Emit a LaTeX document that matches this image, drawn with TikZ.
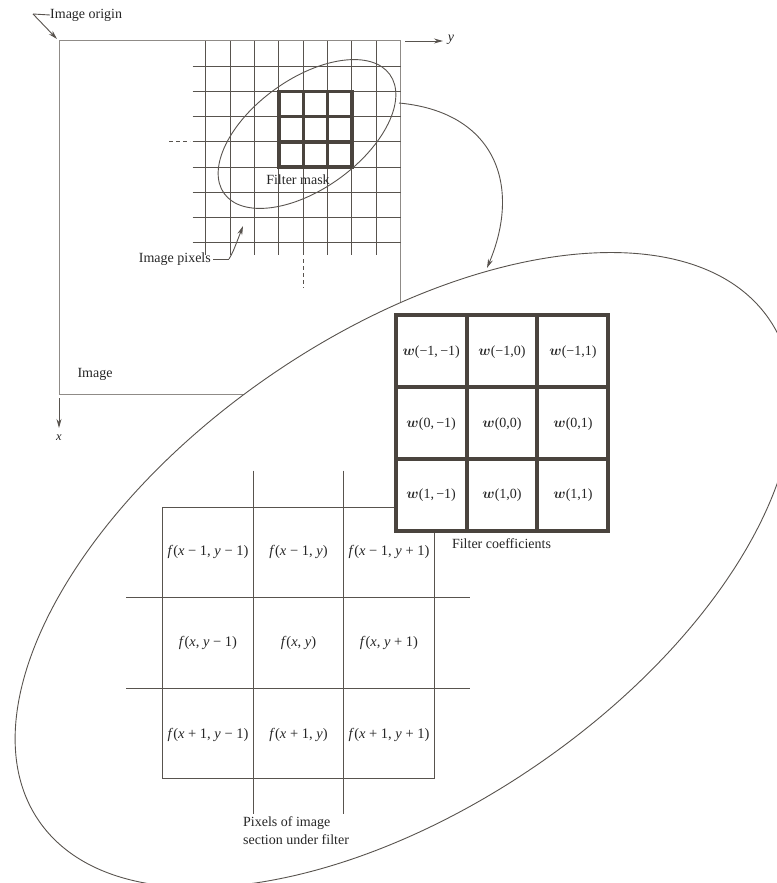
\documentclass[tikz,border=0pt]{standalone}
\usepackage{bm}
\usepackage{fontspec}
\setmainfont{Liberation Serif}
\usetikzlibrary{arrows.meta}
\definecolor{linec}{HTML}{58534E}
\definecolor{rectc}{HTML}{8F8B87}
\definecolor{boxc}{HTML}{4A443E}
\begin{document}
\begin{tikzpicture}[x=1pt,y=-1pt,
  lbl/.style={font=\fontsize{14}{18}\selectfont, inner sep=0pt, text=black!85},
  flbl/.style={font=\fontsize{14.5}{16}\selectfont, inner sep=0pt, text=black!85},
  wlbl/.style={font=\fontsize{14}{15}\selectfont, inner sep=0pt, text=black!85},
  thin line/.style={draw=linec, line width=0.9pt},
  rect line/.style={draw=rectc, line width=1pt},
  heavy/.style={draw=boxc, line width=3.4pt},
  heavier/.style={draw=boxc, line width=4pt},
  tip/.style={-{Stealth[length=9pt,width=5pt]}}
  ]
\useasboundingbox (0,0) rectangle (776,883);

% ---- image rectangle
\draw[rect line] (59,394) -- (59,41) -- (400.7,41) -- (400.7,330);
\draw[rect line] (59,394) -- (270,394);

% ---- pixel grid
\foreach \i in {0,...,7}
  \draw[thin line] ({205.7+24.37*\i},41) -- ({205.7+24.37*\i},255);
\foreach \j in {1,...,8}
  \draw[thin line] (192.7,{41+25.2*\j}) -- (400.7,{41+25.2*\j});
\draw[thin line, dash pattern=on 4pt off 3pt] (169,141.8) -- (190,141.8);
\draw[thin line, dash pattern=on 4pt off 3pt] (303.2,259) -- (303.2,288);

% ---- filter mask
\draw[heavy] (278.8,91.4) rectangle (351.9,167);
\draw[heavy] (303.2,91.4) -- (303.2,167) (327.6,91.4) -- (327.6,167);
\draw[heavy] (278.8,116.6) -- (351.9,116.6) (278.8,141.8) -- (351.9,141.8);
\node[lbl] (masklbl) at (298,180) {Filter mask};

% ---- small ellipse
\draw[thin line, rotate around={35.7:(307,134)}] (307,134) ellipse [x radius=102pt, y radius=55pt];

% ---- axes
\coordinate (ya) at (405,41);
\coordinate (yb) at (443,41);
\draw[thin line, tip] (ya) -- (yb);
\node[lbl, font=\fontsize{14}{16}\selectfont\itshape] (ylbl) at (451,40) {y};
\coordinate (xa) at (59,398);
\coordinate (xb) at (59,428);
\draw[thin line, tip] (xa) -- (xb);
\node[lbl, font=\fontsize{12.5}{14}\selectfont\itshape] (xlbl) at (59,438) {x};

% ---- labels
\node[lbl, anchor=west] (origin) at (50,15) {Image origin};
\coordinate (oc) at (33,14);
\coordinate (ot) at (57,39);
\draw[thin line] (origin.west) -- (oc);
\draw[thin line, tip] (oc) -- (ot);

\node[lbl, anchor=east] (pix) at (211,259) {Image pixels};
\coordinate (pc) at (229,259);
\coordinate (pt) at (243,226);
\draw[thin line] (pix.east) ++(2,0) -- (pc);
\draw[thin line, tip] (pc) .. controls (233,252) .. (pt);

\node[lbl] (imglbl) at (95,374) {Image};

% ---- curved connector
\coordinate (ca) at (399,103);
\coordinate (cb) at (487,268);
\draw[thin line, tip] (ca) .. controls (495,112) and (522,185) .. (cb);

% ---- big ellipse
\filldraw[fill=white, thin line, rotate around={34.5:(404,570)}] (404,570) ellipse [x radius=443pt, y radius=236pt];

% ---- image section grid
\draw[thin line] (162.3,507.3) rectangle (434.3,778.7);
\draw[thin line] (253.3,470.7) -- (253.3,814.3);
\draw[thin line] (343.3,470.7) -- (343.3,814.3);
\draw[thin line] (126,597) -- (470,597);
\draw[thin line] (126,688.3) -- (470,688.3);

\node[flbl] (f11) at (208,552) {\textit{f}(\textit{x} − 1, \textit{y} − 1)};
\node[flbl] (f12) at (298.5,552) {\textit{f}(\textit{x} − 1, \textit{y})};
\node[flbl] (f13) at (389,552) {\textit{f}(\textit{x} − 1, \textit{y} + 1)};
\node[flbl] (f21) at (208,643) {\textit{f}(\textit{x}, \textit{y} − 1)};
\node[flbl] (f22) at (298.5,643) {\textit{f}(\textit{x}, \textit{y})};
\node[flbl] (f23) at (389,643) {\textit{f}(\textit{x}, \textit{y} + 1)};
\node[flbl] (f31) at (208,735) {\textit{f}(\textit{x} + 1, \textit{y} − 1)};
\node[flbl] (f32) at (298.5,735) {\textit{f}(\textit{x} + 1, \textit{y})};
\node[flbl] (f33) at (389,735) {\textit{f}(\textit{x} + 1, \textit{y} + 1)};

\node[lbl, anchor=north west, align=left] (seclbl) at (243,816) {Pixels of image\\section under filter};

% ---- filter coefficients
\filldraw[fill=white, heavier] (395.7,315) rectangle (608.3,530.7);
\draw[heavier] (466.6,315) -- (466.6,530.7) (537.4,315) -- (537.4,530.7);
\draw[heavier] (395.7,386.9) -- (608.3,386.9) (395.7,458.8) -- (608.3,458.8);

\node[wlbl] (w11) at (431.2,352) {$\bm{w}$(−1,\,−1)};
\node[wlbl] (w12) at (502,352) {$\bm{w}$(−1,0)};
\node[wlbl] (w13) at (573,352) {$\bm{w}$(−1,1)};
\node[wlbl] (w21) at (431.2,424) {$\bm{w}$(0,\,−1)};
\node[wlbl] (w22) at (502,424) {$\bm{w}$(0,0)};
\node[wlbl] (w23) at (573,424) {$\bm{w}$(0,1)};
\node[wlbl] (w31) at (431.2,495) {$\bm{w}$(1,\,−1)};
\node[wlbl] (w32) at (502,495) {$\bm{w}$(1,0)};
\node[wlbl] (w33) at (573,495) {$\bm{w}$(1,1)};

\node[lbl] (coeflbl) at (501.5,544) {Filter coefficients};
\end{tikzpicture}
\end{document}
